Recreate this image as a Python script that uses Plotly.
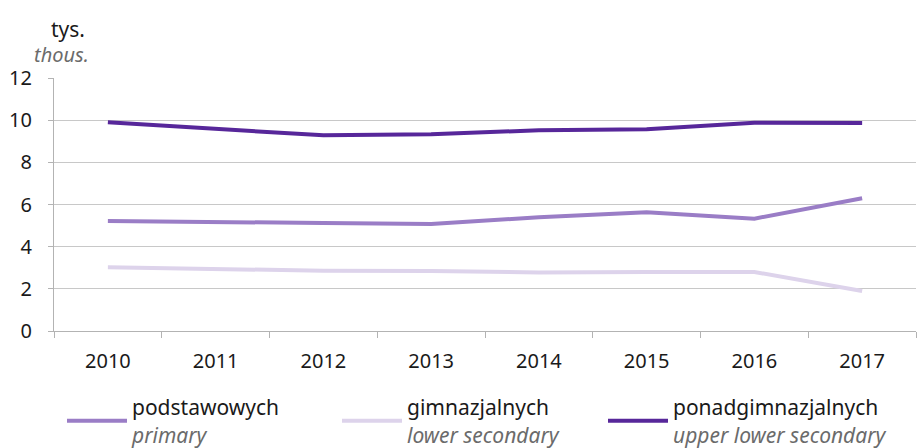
import plotly.graph_objects as go

years = ["2010", "2011", "2012", "2013", "2014", "2015", "2016", "2017"]
primary = [5.22, 5.15, 5.12, 5.07, 5.40, 5.63, 5.33, 6.30]
lower_secondary = [3.02, 2.95, 2.86, 2.85, 2.78, 2.80, 2.80, 1.90]
upper_secondary = [9.90, 9.60, 9.28, 9.33, 9.52, 9.57, 9.88, 9.86]

names_pl = ["podstawowych", "gimnazjalnych", "ponadgimnazjalnych"]
names_en = ["primary", "lower secondary", "upper lower secondary"]
colors = ["#9A7DC6", "#DDD3EB", "#57279A"]
series = [primary, lower_secondary, upper_secondary]
legend_ids = ["legend", "legend2", "legend3"]
legend_px = [62, 337, 603]

FONT = "Noto Sans, Open Sans, sans-serif"

fig = go.Figure()
for vals, pl, en, c, lid in zip(series, names_pl, names_en, colors, legend_ids):
    fig.add_trace(go.Scatter(
        x=years, y=vals, mode="lines",
        name=f"{pl}<br><i><span style='color:#6b6b6b'>{en}</span></i>",
        line=dict(color=c, width=4), legend=lid,
    ))

L, R, T, B = 54, 4, 78, 117
W, H = 920, 448
pw, ph = W - L - R, H - T - B


def px_x(px):
    return (px - L) / pw


def px_y(py):
    return (H - B - py) / ph


def legend_at(xpx):
    return dict(
        orientation="h", xref="container", yref="container",
        x=xpx / W, xanchor="left", y=1 - 387 / H, yanchor="top",
        font=dict(size=21), itemwidth=60, bgcolor="rgba(0,0,0,0)",
    )


fig.update_layout(
    width=W, height=H,
    margin=dict(l=L, r=R, t=T, b=B, autoexpand=False),
    paper_bgcolor="white", plot_bgcolor="white",
    font=dict(family=FONT, size=20, color="#1a1a1a"),
    showlegend=True,
    legend=legend_at(legend_px[0]),
    legend2=legend_at(legend_px[1]),
    legend3=legend_at(legend_px[2]),
    xaxis=dict(
        type="category", range=[-0.5, 7.5], tickson="boundaries",
        ticks="outside", ticklen=6, tickcolor="#b3b3b3",
        showgrid=False, showline=True, linecolor="#b3b3b3",
        linewidth=1, tickfont=dict(size=20), zeroline=False,
        ticklabelstandoff=12,
    ),
    yaxis=dict(
        range=[0, 12], dtick=2, tick0=0, ticks="outside", ticklen=5,
        tickcolor="#b3b3b3", showgrid=True, gridcolor="#c8c8c8", gridwidth=1,
        showline=True, linecolor="#b3b3b3", zeroline=False,
        tickfont=dict(size=20), ticklabelstandoff=12,
    ),
)

fig.add_annotation(text="tys.", x=px_x(49), y=px_y(29), xref="paper",
                   yref="paper", showarrow=False, xanchor="left",
                   yanchor="middle", font=dict(size=21, color="#1a1a1a"))
fig.add_annotation(text="<i>thous.</i>", x=px_x(32), y=px_y(54), xref="paper",
                   yref="paper", showarrow=False, xanchor="left",
                   yanchor="middle", font=dict(size=20, color="#6b6b6b"))

fig.write_html(
    "out.html",
    config={"displayModeBar": False},
    post_script="document.body.style.margin='0px';document.body.style.overflow='hidden';",
)
